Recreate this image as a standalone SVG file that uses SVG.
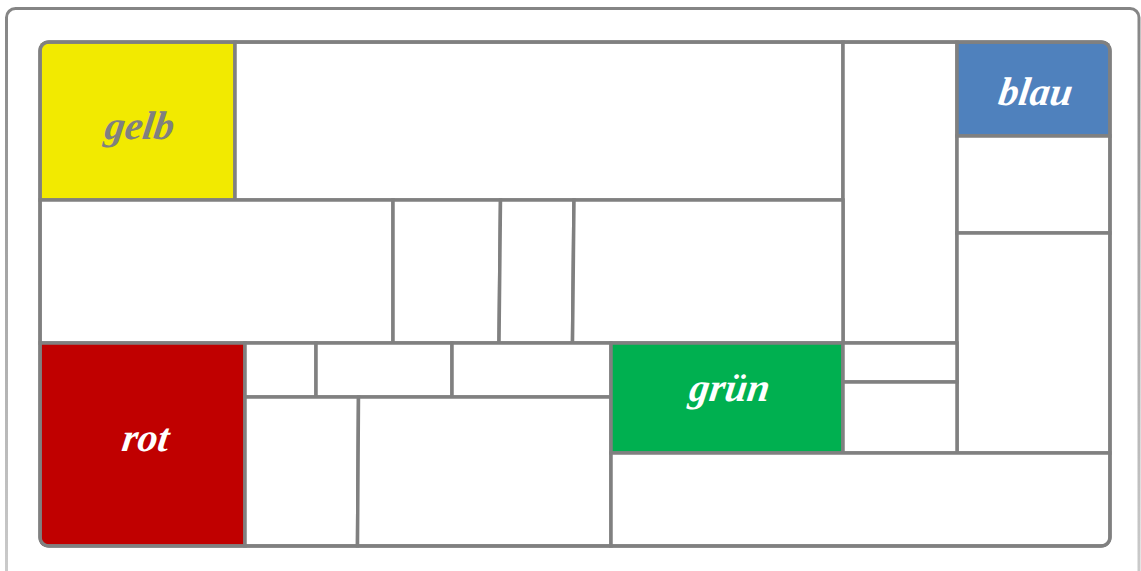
<svg xmlns="http://www.w3.org/2000/svg" width="1141" height="571" viewBox="0 0 1141 571">
<defs>
<linearGradient id="frameGrad" x1="0" y1="0" x2="0" y2="1">
<stop offset="0" stop-color="#858585"/>
<stop offset="1" stop-color="#cfcfcf"/>
</linearGradient>
<clipPath id="innerClip">
<rect x="38.25" y="40.25" width="1073.5" height="507.5" rx="10.5"/>
</clipPath>
</defs>
<style>
.cell{fill:#ffffff;stroke:#808080;stroke-width:3.5;stroke-linejoin:miter}
.lbl{font-family:"Liberation Serif","DejaVu Serif",serif;font-style:italic;font-weight:bold;font-size:40px;text-anchor:middle}
</style>
<rect x="0" y="0" width="1141" height="571" fill="#ffffff"/>
<rect id="outer-frame" x="6.5" y="8.5" width="1132.5" height="600" rx="9" fill="#ffffff" stroke="url(#frameGrad)" stroke-width="3"/>
<g id="cells" clip-path="url(#innerClip)">
<g id="c-gelb"><rect class="cell" x="40" y="42" width="195" height="158" style="fill:#f2ea00"/><text class="lbl" transform="translate(138,139) skewX(-8)" fill="#808080">gelb</text></g>
<g id="c2"><rect class="cell" x="235" y="42" width="608" height="158"/></g>
<g id="c3"><rect class="cell" x="843" y="42" width="114" height="301"/></g>
<g id="c-blau"><rect class="cell" x="957" y="42" width="153" height="94" style="fill:#4f81bd"/><text class="lbl" transform="translate(1034,105) skewX(-8)" fill="#ffffff">blau</text></g>
<g id="c5"><rect class="cell" x="957" y="136" width="153" height="97"/></g>
<g id="c6"><rect class="cell" x="957" y="233" width="153" height="220"/></g>
<g id="c7"><rect class="cell" x="40" y="200" width="353" height="143"/></g>
<g id="c8"><polygon class="cell" points="393,200 500.5,200 499,343 393,343"/></g>
<g id="c9"><polygon class="cell" points="500.5,200 574,200 572.5,343 499,343"/></g>
<g id="c10"><polygon class="cell" points="574,200 843,200 843,343 572.5,343"/></g>
<g id="c-rot"><rect class="cell" x="40" y="343" width="205" height="203" style="fill:#c00000"/><text class="lbl" transform="translate(144,451) skewX(-8)" fill="#ffffff">rot</text></g>
<g id="c12"><rect class="cell" x="245" y="343" width="71" height="54"/></g>
<g id="c13"><rect class="cell" x="316" y="343" width="136" height="54"/></g>
<g id="c14"><rect class="cell" x="452" y="343" width="159" height="54"/></g>
<g id="c15"><polygon class="cell" points="245,397 358.5,397 357.5,546 245,546"/></g>
<g id="c16"><polygon class="cell" points="358.5,397 611,397 611,546 357.5,546"/></g>
<g id="c-gruen"><rect class="cell" x="611" y="343" width="232" height="110" style="fill:#00b050"/><text class="lbl" transform="translate(728,401) skewX(-8)" fill="#ffffff">grün</text></g>
<g id="c18"><rect class="cell" x="843" y="343" width="114" height="39"/></g>
<g id="c19"><rect class="cell" x="843" y="382" width="114" height="71"/></g>
<g id="c20"><rect class="cell" x="611" y="453" width="499" height="93"/></g>
</g>
<rect id="inner-frame" x="40" y="42" width="1070" height="504" rx="9" fill="none" stroke="#808080" stroke-width="3.5"/>
</svg>
